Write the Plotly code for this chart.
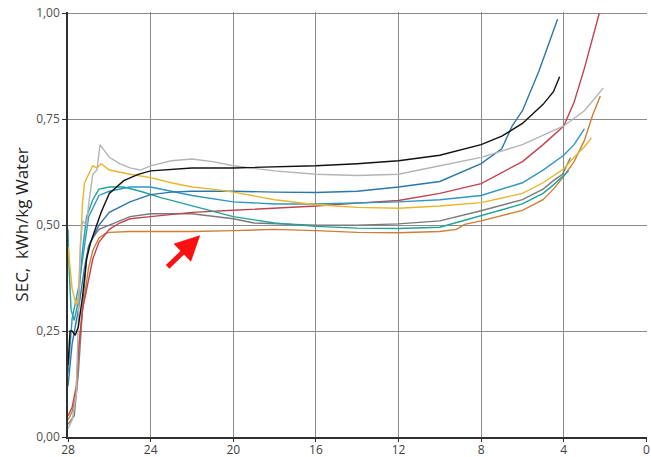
import plotly.graph_objects as go

# ---- data ----
black_x = [28.0, 27.9, 27.8, 27.65, 27.5, 27.3, 27.1, 26.9, 26.4, 26.0, 25.3, 24.6, 24.0, 22.0, 20.0, 18.0, 16.0, 14.0, 12.0, 10.0, 8.0, 7.0, 6.0, 5.0, 4.5, 4.2]
black_y = [0.17, 0.25, 0.25, 0.24, 0.26, 0.33, 0.42, 0.46, 0.53, 0.575, 0.605, 0.62, 0.628, 0.635, 0.635, 0.637, 0.64, 0.645, 0.652, 0.665, 0.69, 0.71, 0.74, 0.785, 0.815, 0.85]

lgray_x = [28.0, 27.8, 27.6, 27.5, 27.4, 27.3, 27.1, 27.0, 26.8, 26.6, 26.45, 26.3, 26.0, 25.5, 25.0, 24.5, 24.0, 23.0, 22.0, 21.0, 20.0, 18.0, 16.0, 14.0, 12.0, 10.0, 8.0, 6.0, 4.0, 3.0, 2.08]
lgray_y = [0.02, 0.04, 0.10, 0.25, 0.45, 0.51, 0.50, 0.55, 0.62, 0.63, 0.69, 0.68, 0.66, 0.645, 0.635, 0.63, 0.64, 0.652, 0.656, 0.65, 0.64, 0.628, 0.62, 0.617, 0.62, 0.64, 0.66, 0.69, 0.734, 0.77, 0.824]

dblue_x = [28.0, 27.8, 27.5, 27.2, 27.0, 26.5, 26.0, 25.0, 24.0, 23.0, 22.0, 20.0, 18.0, 16.0, 14.0, 12.0, 10.0, 8.0, 7.0, 6.5, 6.0, 5.2, 4.3]
dblue_y = [0.12, 0.22, 0.30, 0.40, 0.45, 0.50, 0.53, 0.555, 0.572, 0.578, 0.58, 0.58, 0.578, 0.577, 0.58, 0.59, 0.603, 0.645, 0.68, 0.734, 0.77, 0.864, 0.986]

lblue_x = [28.0, 27.8, 27.5, 27.2, 27.0, 26.5, 26.0, 25.0, 24.0, 23.0, 22.0, 20.0, 18.0, 16.0, 12.0, 10.0, 8.0, 6.0, 5.0, 4.0, 3.5, 3.0]
lblue_y = [0.15, 0.28, 0.35, 0.45, 0.52, 0.57, 0.58, 0.59, 0.59, 0.58, 0.57, 0.555, 0.55, 0.55, 0.555, 0.56, 0.57, 0.60, 0.63, 0.665, 0.69, 0.727]

teal_x = [28.0, 27.95, 27.85, 27.7, 27.5, 27.3, 27.1, 26.8, 26.5, 26.0, 25.3, 24.5, 23.5, 22.0, 20.0, 18.0, 16.0, 14.0, 12.0, 10.0, 8.0, 6.0, 5.0, 4.5, 3.77]
teal_y = [0.49, 0.40, 0.30, 0.275, 0.32, 0.44, 0.52, 0.56, 0.585, 0.59, 0.59, 0.58, 0.565, 0.545, 0.52, 0.505, 0.497, 0.493, 0.492, 0.495, 0.522, 0.55, 0.575, 0.595, 0.628]

yellow_x = [28.0, 27.8, 27.6, 27.5, 27.4, 27.3, 27.2, 27.0, 26.8, 26.6, 26.4, 26.0, 25.5, 25.0, 24.0, 23.0, 22.0, 21.0, 20.0, 18.0, 16.0, 14.0, 12.0, 10.0, 8.0, 6.0, 5.0, 4.0, 3.5, 3.0, 2.66]
yellow_y = [0.45, 0.35, 0.31, 0.33, 0.45, 0.55, 0.60, 0.62, 0.64, 0.635, 0.645, 0.63, 0.625, 0.62, 0.612, 0.60, 0.59, 0.585, 0.578, 0.56, 0.548, 0.542, 0.54, 0.545, 0.553, 0.575, 0.60, 0.633, 0.66, 0.685, 0.706]

red_x = [28.0, 27.8, 27.6, 27.5, 27.3, 27.0, 26.8, 26.5, 26.0, 25.5, 25.0, 24.0, 23.0, 22.0, 20.0, 18.0, 16.0, 14.0, 12.0, 10.0, 8.0, 6.0, 5.0, 4.0, 3.5, 3.0, 2.6, 2.28]
red_y = [0.05, 0.07, 0.12, 0.20, 0.30, 0.37, 0.42, 0.46, 0.49, 0.505, 0.515, 0.52, 0.525, 0.53, 0.535, 0.54, 0.545, 0.552, 0.558, 0.575, 0.598, 0.65, 0.69, 0.734, 0.79, 0.87, 0.94, 1.0]

orange_x = [28.0, 27.8, 27.6, 27.5, 27.3, 27.0, 26.8, 26.5, 26.2, 26.0, 25.0, 24.0, 22.0, 20.0, 18.0, 16.0, 14.0, 12.0, 10.0, 9.2, 8.8, 8.0, 6.0, 5.0, 4.5, 4.0, 3.5, 3.0, 2.6, 2.23]
orange_y = [0.04, 0.06, 0.10, 0.20, 0.30, 0.40, 0.44, 0.47, 0.48, 0.483, 0.485, 0.485, 0.485, 0.487, 0.49, 0.487, 0.483, 0.482, 0.485, 0.49, 0.502, 0.51, 0.535, 0.56, 0.585, 0.615, 0.65, 0.70, 0.76, 0.805]

dgray_x = [28.0, 27.7, 27.5, 27.3, 27.1, 27.0, 26.8, 26.5, 26.0, 25.5, 25.0, 24.0, 22.0, 20.0, 19.0, 16.0, 14.0, 12.0, 10.0, 8.0, 6.0, 5.0, 4.5, 4.06, 3.68]
dgray_y = [0.03, 0.05, 0.15, 0.30, 0.42, 0.45, 0.47, 0.49, 0.50, 0.51, 0.52, 0.527, 0.527, 0.515, 0.505, 0.50, 0.50, 0.503, 0.51, 0.534, 0.56, 0.585, 0.605, 0.62, 0.659]

x_ticks = [28, 24, 20, 16, 12, 8, 4, 0]
y_ticks = [0, 0.25, 0.5, 0.75, 1.0]
y_tick_labels = ["0,00", "0,25", "0,50", "0,75", "1,00"]

series = [
    (dgray_x, dgray_y, "#7a7a7a"),
    (orange_x, orange_y, "#cf7f34"),
    (red_x, red_y, "#c0434f"),
    (teal_x, teal_y, "#1fa39a"),
    (lblue_x, lblue_y, "#2f96c3"),
    (dblue_x, dblue_y, "#2c76ac"),
    (yellow_x, yellow_y, "#e8b62a"),
    (lgray_x, lgray_y, "#b4b4b4"),
    (black_x, black_y, "#111111"),
]

fig = go.Figure()
for xs, ys, col in series:
    fig.add_trace(go.Scatter(x=xs, y=ys, mode="lines",
                             line=dict(color=col, width=1.4),
                             showlegend=False, hoverinfo="skip"))

# red arrow annotation
fig.add_annotation(x=21.6, y=0.476, ax=23.25, ay=0.398,
                   xref="x", yref="y", axref="x", ayref="y",
                   text="", showarrow=True, arrowhead=2, arrowsize=1.0,
                   arrowwidth=5, arrowcolor="#ff1010")

fig.update_layout(
    width=651, height=457,
    margin=dict(l=68, r=4, t=12, b=20),
    paper_bgcolor="white", plot_bgcolor="white",
    font=dict(family="Open Sans, Noto Sans, sans-serif", size=12, color="#404040"),
)
fig.update_xaxes(range=[28, -0.03], tickvals=x_ticks, ticktext=[str(v) for v in x_ticks],
                 showgrid=True, gridcolor="#8a8a8a", gridwidth=1,
                 showline=True, linecolor="#303030", linewidth=1.5,
                 ticks="outside", ticklen=3, tickcolor="#303030",
                 ticklabelstandoff=-2,
                 zeroline=False, automargin=False, ticklabeloverflow="allow",
                 tickfont=dict(size=12, color="#404040"))
fig.update_yaxes(range=[0, 1.003], tickvals=y_ticks, ticktext=y_tick_labels,
                 showgrid=True, gridcolor="#8a8a8a", gridwidth=1,
                 showline=True, linecolor="#303030", linewidth=1.5,
                 ticks="outside", ticklen=4, tickcolor="#303030",
                 zeroline=False, automargin=False, ticklabeloverflow="allow",
                 tickfont=dict(size=12, color="#505050"),
                 title=dict(text="SEC,  kWh/kg Water", font=dict(size=17, color="#222222"),
                            standoff=3))

# remove the default 8px page margin so the figure fills the window exactly
fig.write_html("out.html", config={"displayModeBar": False},
               post_script="document.body.style.margin='0';")
